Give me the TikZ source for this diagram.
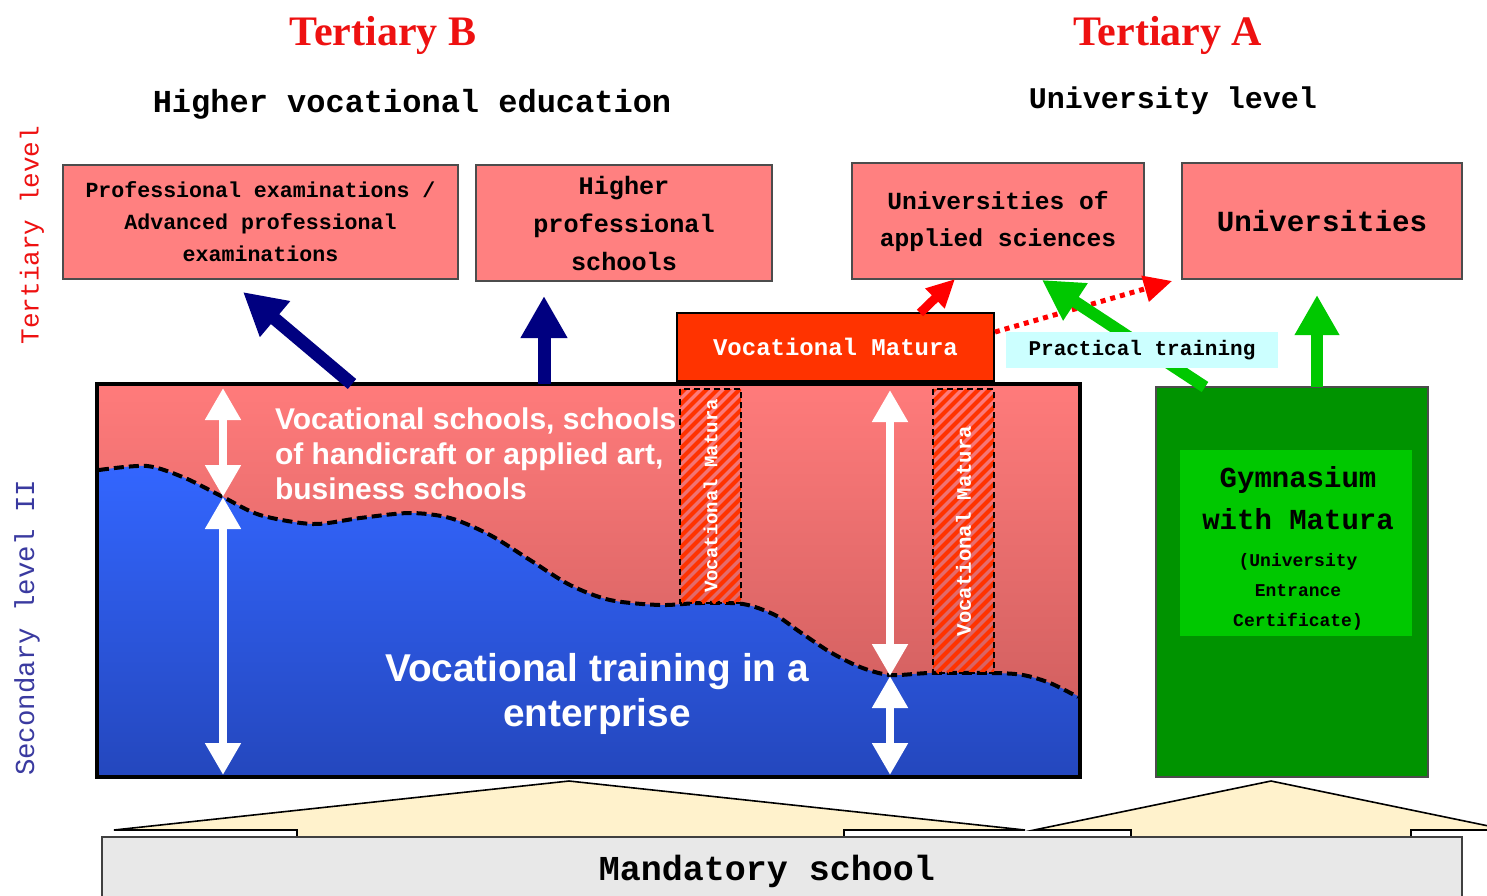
\documentclass[tikz,border=0pt]{standalone}
\usepackage{fontspec}
\setmainfont{Liberation Serif}
\newfontfamily\monof{Liberation Mono}
\newfontfamily\sansf{Liberation Sans}
\usetikzlibrary{arrows.meta}
\definecolor{boxpink}{HTML}{FF8080}
\definecolor{vmred}{HTML}{FF3300}
\definecolor{arrred}{HTML}{FF0000}
\definecolor{navyc}{HTML}{000080}
\definecolor{grn}{HTML}{00C800}
\definecolor{dkgrn}{HTML}{009300}
\definecolor{cyanbg}{HTML}{CCFFFF}
\definecolor{roof}{HTML}{FFF2CC}
\definecolor{schoolgray}{HTML}{E8E8E8}
\definecolor{tred}{HTML}{EE1111}
\definecolor{secblue}{HTML}{3A3AA0}
\definecolor{pinktop}{HTML}{FF7B7B}
\definecolor{pinkbot}{HTML}{C85A5A}
\definecolor{bluetop}{HTML}{3366FF}
\definecolor{bluebot}{HTML}{2447BD}
\begin{document}
\begin{tikzpicture}[x=0.5pt,y=-0.5pt,
  pinkbox/.style={draw=black!70,line width=0.6pt,fill=boxpink,align=center,inner sep=0pt},
  navyarrow/.style={draw=navyc,line width=6.5pt,-{Triangle[width=22pt,length=21pt]}},
  greenarrow/.style={draw=grn,line width=6pt,-{Triangle[width=21pt,length=20pt]}},
  whitearrow/.style={draw=white,line width=4pt,{Triangle[width=17pt,length=16pt]}-{Triangle[width=17pt,length=16pt]}},
  vmbar/.style={rotate=90,draw=black,line width=0.7pt,dash pattern=on 3pt off 2pt,inner sep=0pt,text=white,font=\monof\bfseries\fontsize{9.5}{11}\selectfont},
  roofshape/.style={fill=roof,draw=black,line width=0.8pt},
]
\fill[white] (0,0) rectangle (1487,895);
\useasboundingbox (0,0) rectangle (1487,895);

% titles
\node[text=tred,font=\bfseries\fontsize{21}{24}\selectfont] (tb) at (383,35) {Tertiary B};
\node[text=tred,font=\bfseries\fontsize{21}{24}\selectfont] (ta) at (1168,35) {Tertiary A};
\node[font=\monof\bfseries\fontsize{16}{18}\selectfont] (hve) at (412,104) {Higher vocational education};
\node[font=\monof\bfseries\fontsize{15}{18}\selectfont] (ul) at (1173,101) {University level};

% side labels
\node[rotate=90,text=tred,font=\monof\fontsize{13}{15}\selectfont] (lvl3) at (32,235) {Tertiary level};
\node[rotate=90,text=secblue,font=\monof\fontsize{13.7}{15}\selectfont] (lvl2) at (27,628) {Secondary level II};

% tertiary boxes
\node[pinkbox,minimum width=197.5pt,minimum height=57pt,font=\monof\bfseries\fontsize{10.8}{16}\selectfont] (pe) at (260.5,222) {Professional examinations /\\Advanced professional\\examinations};
\node[pinkbox,minimum width=148pt,minimum height=58pt,font=\monof\bfseries\fontsize{12.6}{19}\selectfont] (hps) at (624,223) {Higher\\professional\\schools};
\node[pinkbox,minimum width=146pt,minimum height=58pt,font=\monof\bfseries\fontsize{12.3}{18.5}\selectfont] (uas) at (998,221) {Universities of\\applied sciences};
\node[pinkbox,minimum width=140pt,minimum height=58pt,font=\monof\bfseries\fontsize{14.6}{18}\selectfont] (uni) at (1322,221) {Universities};

% secondary level: pink and blue areas
\shade[top color=pinktop,bottom color=pinkbot] (97,384) rectangle (1080,777);
\shade[top color=bluetop,bottom color=bluebot] (99,777) -- plot[smooth] coordinates {(99,470) (147,466) (185,478) (223,497) (260,515) (313,524) (360,518) (410,513) (450,518) (490,535) (530,560) (570,585) (610,600) (660,605) (700,603) (743,604) (775,615) (800,632) (830,652) (860,667) (890,675) (930,673) (993,673) (1023,675) (1050,683) (1080,697)} -- (1080,777) -- cycle;
\draw[line width=2pt,dash pattern=on 5pt off 2.5pt] plot[smooth] coordinates {(99,470) (147,466) (185,478) (223,497) (260,515) (313,524) (360,518) (410,513) (450,518) (490,535) (530,560) (570,585) (610,600) (660,605) (700,603) (743,604) (775,615) (800,632) (830,652) (860,667) (890,675) (930,673) (993,673) (1023,675) (1050,683) (1078,697)};

% hatched vocational matura bars
\begin{scope}
\clip (680,389) rectangle (741,603);
\foreach \c in {460,471,...,760} \draw[vmred,line width=2pt] (\c,603) -- ++(220,-220);
\end{scope}
\begin{scope}
\clip (933,389) rectangle (994,673);
\foreach \c in {640,651,...,1000} \draw[vmred,line width=2pt] (\c,673) -- ++(290,-290);
\end{scope}
\node[vmbar,minimum width=107pt,minimum height=30.5pt] (vb1) at (710.5,496) {Vocational Matura};
\node[vmbar,minimum width=142pt,minimum height=30.5pt,font=\monof\bfseries\fontsize{10.3}{12}\selectfont] (vb2) at (963.5,531) {Vocational Matura};

% main box border
\node[draw=black,line width=2pt,minimum width=491.5pt,minimum height=196.5pt,inner sep=0pt] (voc) at (588.5,580.5) {};

% white double arrows
\coordinate (w1a) at (223,388);
\coordinate (w1b) at (223,497);
\coordinate (w1c) at (223,775);
\coordinate (w2a) at (890,390);
\coordinate (w2b) at (890,676);
\coordinate (w2c) at (890,775);
\draw[whitearrow] (w1a) -- (w1b);
\draw[whitearrow] (w1b) -- (w1c);
\draw[whitearrow] (w2a) -- (w2b);
\draw[whitearrow] (w2b) -- (w2c);

% texts in main box
\node[anchor=west,align=left,text=white,font=\sansf\bfseries\fontsize{15}{17.5}\selectfont] (vst) at (268,454) {Vocational schools, schools\\of handicraft or applied art,\\business schools};
\node[align=center,text=white,font=\sansf\bfseries\fontsize{19.4}{22.5}\selectfont] (vte) at (597,694) {Vocational training in a\\enterprise};

% vocational matura box
\node[draw=black,line width=0.8pt,fill=vmred,minimum width=158.5pt,minimum height=34pt,inner sep=0pt,text=white,font=\monof\bfseries\fontsize{12}{14}\selectfont] (vm) at (835.5,347) {Vocational Matura};

% gymnasium
\node[draw=black!70,line width=0.6pt,fill=dkgrn,minimum width=136pt,minimum height=195pt,inner sep=0pt] (gym) at (1292,582) {};
\node[fill=grn,minimum width=116pt,minimum height=93pt,inner sep=0pt] (gymin) at (1296,543) {};
\node[align=center,font=\monof\bfseries\fontsize{14.5}{21}\selectfont] (gymt) at (1298,498) {Gymnasium\\with Matura};
\node[align=center,font=\monof\bfseries\fontsize{9}{15}\selectfont] (gyms) at (1298,592) {(University\\Entrance\\Certificate)};

% arrows to tertiary
\coordinate (n1s) at (352,384);
\coordinate (n1e) at (243,292);
\coordinate (n2s) at (544,384);
\coordinate (n2e) at (544,296);
\draw[navyarrow] (n1s) -- (n1e);
\draw[navyarrow] (n2s) -- (n2e);
\coordinate (r1s) at (920,313);
\coordinate (r1e) at (955,279);
\draw[draw=arrred,line width=4.5pt,-{Triangle[width=13pt,length=14pt]}] (r1s) -- (r1e);
\coordinate (r2s) at (995,332);
\coordinate (r2e) at (1172,281);
\draw[draw=arrred,line width=2.5pt,dash pattern=on 2.5pt off 2.5pt,-{Triangle[width=13pt,length=14pt]}] (r2s) -- (r2e);
\coordinate (g1s) at (1205,387);
\coordinate (g1e) at (1042,280);
\coordinate (g2s) at (1317,387);
\coordinate (g2e) at (1317,295);
\draw[greenarrow] (g1s) -- (g1e);
\draw[greenarrow] (g2s) -- (g2e);

% practical training
\node[fill=cyanbg,minimum width=136pt,minimum height=18pt,inner sep=0pt,font=\monof\bfseries\fontsize{10.5}{12}\selectfont] (pt) at (1142,350) {Practical training};

% mandatory school
\draw[roofshape] (114,830) -- (569,781) -- (1025,830) -- (844,830) -- (844,837) -- (297,837) -- (297,830) -- cycle;
\draw[roofshape] (1034,830) -- (1271,781) -- (1508,830) -- (1411,830) -- (1411,837) -- (1131,837) -- (1131,830) -- cycle;
\node[draw=black!75,line width=0.8pt,fill=schoolgray,minimum width=680pt,minimum height=34pt,inner sep=0pt,font=\monof\bfseries\fontsize{17.5}{20}\selectfont] (ms) at (782,871) {Mandatory school\hspace*{15pt}};
\end{tikzpicture}
\end{document}
